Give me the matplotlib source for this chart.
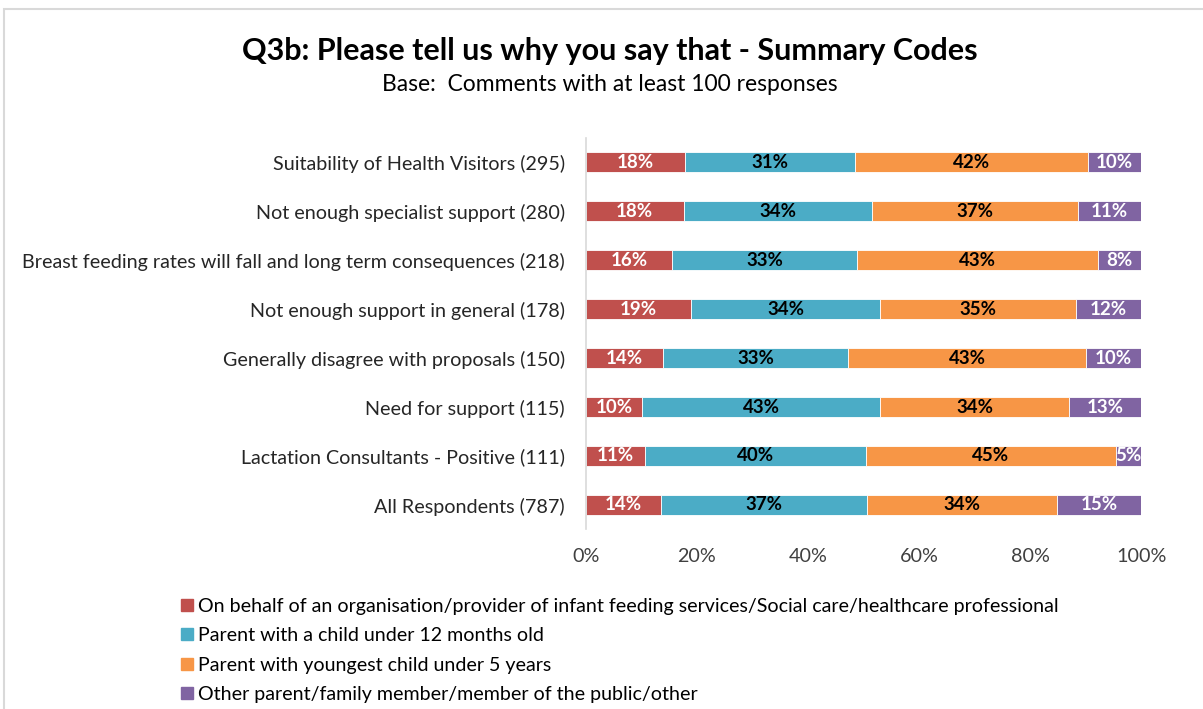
import matplotlib
matplotlib.use("Agg")
import matplotlib.pyplot as plt
from matplotlib.patches import Rectangle
from matplotlib.lines import Line2D
import numpy as np

plt.rcParams['font.family'] = ['Lato', 'DejaVu Sans']

# data (top to bottom as in the chart)
categories = ['Suitability of Health Visitors (295)',
              'Not enough specialist support (280)',
              'Breast feeding rates will fall and long term consequences (218)',
              'Not enough support in general (178)',
              'Generally disagree with proposals (150)',
              'Need for support (115)',
              'Lactation Consultants - Positive (111)',
              'All Respondents (787)']
org = [17.8, 17.6, 15.6, 18.9, 13.9, 10.1, 10.6, 13.6]
under12 = [30.6, 34.0, 33.3, 34.1, 33.3, 42.9, 39.8, 37.1]
under5 = [42.1, 37.0, 43.4, 35.3, 42.9, 34.0, 45.0, 34.2]
other = [9.5, 11.4, 7.7, 11.7, 9.9, 13.0, 4.6, 15.1]

series_names = ['On behalf of an organisation/provider of infant feeding services/Social care/healthcare professional',
                'Parent with a child under 12 months old',
                'Parent with youngest child under 5 years',
                'Other parent/family member/member of the public/other']
colors = ['#C0504D', '#4BACC6', '#F79646', '#8064A2']
txt_colors = ['white', 'black', 'black', 'white']

fig = plt.figure(figsize=(12.03, 7.09), dpi=100)
ax = fig.add_axes([0.487, 0.2532, 0.4615, 0.5528])

y = np.arange(len(categories))
left = np.zeros(len(categories))
for vals, c, tc, name in zip([org, under12, under5, other], colors, txt_colors, series_names):
    vals = np.array(vals)
    ax.barh(y, vals, left=left, height=0.41, color=c, edgecolor='white',
            linewidth=0.6, label=name)
    for yi, l, v in zip(y, left, vals):
        ax.text(l + v / 2, yi, f'{v:.0f}%', ha='center', va='center',
                color=tc, fontsize=13.5, fontweight='bold')
    left += vals

ax.set_ylim(len(categories) - 0.5, -0.5)
ax.set_xlim(0, 100)
ax.set_yticks(y)
ax.set_yticklabels(categories, fontsize=14.2, color='#262626')
ax.set_xticks(np.arange(0, 101, 20))
ax.set_xticklabels([f'{t}%' for t in range(0, 101, 20)], fontsize=14.2, color='#404040')
ax.tick_params(axis='both', length=0)
ax.tick_params(axis='y', pad=15)
ax.tick_params(axis='x', pad=13)
for s in ['top', 'right', 'bottom']:
    ax.spines[s].set_visible(False)
ax.spines['left'].set_color('#D9D9D9')
ax.spines['left'].set_linewidth(1.2)

fig.text(0.507, 0.928, 'Q3b: Please tell us why you say that - Summary Codes',
         ha='center', va='center', fontsize=22, fontweight='bold')
fig.text(0.507, 0.881, 'Base:  Comments with at least 100 responses',
         ha='center', va='center', fontsize=16.5)

handles = [Line2D([], [], marker='s', linestyle='none', markersize=9,
                  markerfacecolor=c, markeredgecolor=c) for c in colors]
fig.legend(handles, series_names, loc='upper left', bbox_to_anchor=(0.142, 0.168),
           frameon=False, fontsize=14.1, handletextpad=0.1, labelspacing=0.64,
           handlelength=0.9, borderaxespad=0)

fig.patches.append(Rectangle((4 / 1203, -0.1), 1.2, 1 - 9 / 709 + 0.1,
                             transform=fig.transFigure, fill=False,
                             edgecolor='#D9D9D9', linewidth=1.5))

fig.savefig('out.png', dpi=100)
